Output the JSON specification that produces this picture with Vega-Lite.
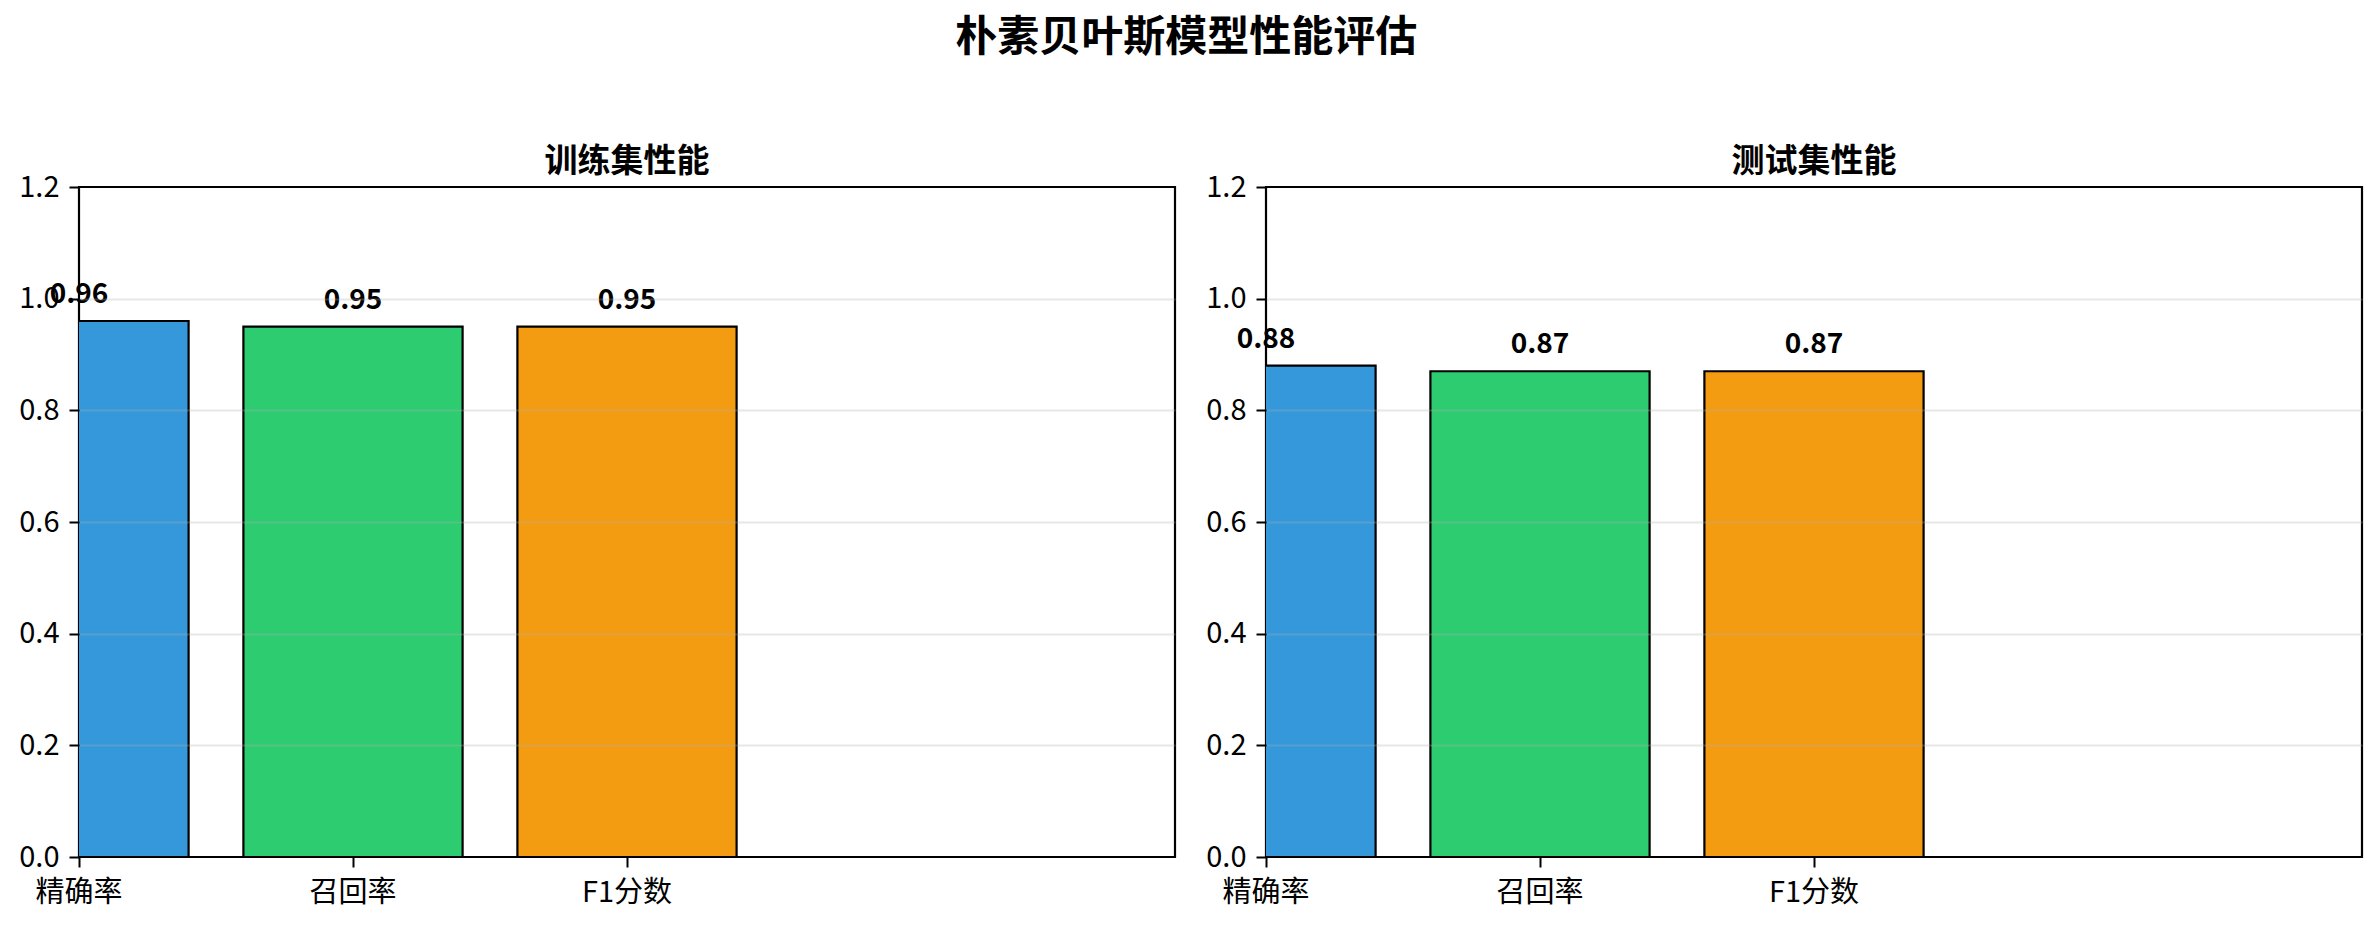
{
  "$schema": "https://vega.github.io/schema/vega-lite/v6.json",
  "background": "white",
  "padding": {"left": 17, "right": 18, "top": 16, "bottom": 18},
  "title": {
    "text": "朴素贝叶斯模型性能评估",
    "fontSize": 42,
    "fontWeight": "bold",
    "anchor": "middle",
    "offset": 85,
    "dx": -4
  },
  "data": {
    "values": [
      {"set": "训练集", "metric": "精确率", "value": 0.96},
      {"set": "训练集", "metric": "召回率", "value": 0.95},
      {"set": "训练集", "metric": "F1分数", "value": 0.95},
      {"set": "测试集", "metric": "精确率", "value": 0.88},
      {"set": "测试集", "metric": "召回率", "value": 0.87},
      {"set": "测试集", "metric": "F1分数", "value": 0.87}
    ]
  },
  "spacing": 27,
  "hconcat": [
    {
      "title": "训练集性能",
      "width": 1096,
      "height": 670,
      "transform": [{"filter": "datum.set === '训练集'"}],
      "encoding": {
        "x": {
          "field": "metric",
          "type": "nominal",
          "sort": null,
          "scale": {"type": "band", "domain": ["精确率", "召回率", "F1分数"], "paddingInner": 0.2, "paddingOuter": 0.6, "align": 0},
          "axis": {"labelAngle": 0, "grid": false, "bandPosition": 0, "labelOffset": -109.6, "labelPadding": 11}
        },
        "y": {
          "field": "value",
          "type": "quantitative",
          "scale": {"domain": [0, 1.2], "nice": false},
          "axis": {"values": [0, 0.2, 0.4, 0.6, 0.8, 1.0, 1.2], "format": ".1f", "grid": true, "zindex": 1, "labelPadding": 10}
        }
      },
      "layer": [
        {
          "mark": {"type": "bar", "clip": true, "stroke": "black", "strokeWidth": 2.2, "xOffset": -109.6, "x2Offset": -109.6},
          "encoding": {
            "color": {
              "field": "metric",
              "type": "nominal",
              "scale": {"domain": ["精确率", "召回率", "F1分数"], "range": ["#3498db", "#2ecc71", "#f39c12"]},
              "legend": null
            }
          }
        },
        {
          "mark": {"type": "text", "fontWeight": "bold", "fontSize": 28, "baseline": "alphabetic", "dy": -18, "xOffset": -109.6},
          "encoding": {"text": {"field": "value", "type": "quantitative", "format": ".2f"}}
        }
      ]
    },
    {
      "title": "测试集性能",
      "width": 1096,
      "height": 670,
      "transform": [{"filter": "datum.set === '测试集'"}],
      "encoding": {
        "x": {
          "field": "metric",
          "type": "nominal",
          "sort": null,
          "scale": {"type": "band", "domain": ["精确率", "召回率", "F1分数"], "paddingInner": 0.2, "paddingOuter": 0.6, "align": 0},
          "axis": {"labelAngle": 0, "grid": false, "bandPosition": 0, "labelOffset": -109.6, "labelPadding": 11}
        },
        "y": {
          "field": "value",
          "type": "quantitative",
          "scale": {"domain": [0, 1.2], "nice": false},
          "axis": {"values": [0, 0.2, 0.4, 0.6, 0.8, 1.0, 1.2], "format": ".1f", "grid": true, "zindex": 1, "labelPadding": 10}
        }
      },
      "layer": [
        {
          "mark": {"type": "bar", "clip": true, "stroke": "black", "strokeWidth": 2.2, "xOffset": -109.6, "x2Offset": -109.6},
          "encoding": {
            "color": {
              "field": "metric",
              "type": "nominal",
              "scale": {"domain": ["精确率", "召回率", "F1分数"], "range": ["#3498db", "#2ecc71", "#f39c12"]},
              "legend": null
            }
          }
        },
        {
          "mark": {"type": "text", "fontWeight": "bold", "fontSize": 28, "baseline": "alphabetic", "dy": -18, "xOffset": -109.6},
          "encoding": {"text": {"field": "value", "type": "quantitative", "format": ".2f"}}
        }
      ]
    }
  ],
  "resolve": {"scale": {"x": "independent", "y": "independent"}},
  "config": {
    "font": "Noto Sans CJK SC",
    "view": {"stroke": "black", "strokeWidth": 2.2},
    "title": {"font": "Noto Sans CJK SC", "fontSize": 33, "fontWeight": "bold", "color": "black", "offset": -6},
    "axis": {
      "domain": false,
      "title": null,
      "labelFont": "Noto Sans CJK SC",
      "labelFontSize": 29,
      "labelColor": "black",
      "tickColor": "black",
      "tickSize": 10,
      "tickWidth": 2,
      "labelPadding": 5,
      "gridColor": "#b0b0b0",
      "gridOpacity": {"condition": {"test": "datum.value === 0 || datum.value === 1.2", "value": 0}, "value": 0.3},
      "gridWidth": 2
    }
  }
}
